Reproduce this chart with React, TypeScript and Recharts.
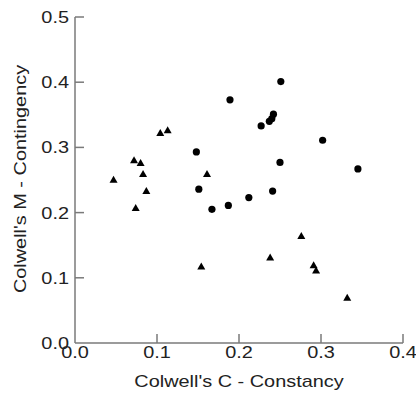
import { ScatterChart, Scatter, XAxis, YAxis } from "recharts";

// Colwell's C (constancy) and M (contingency), two groups
const circleC = [0.251, 0.189, 0.242, 0.24, 0.237, 0.227, 0.302, 0.148, 0.25, 0.345, 0.151, 0.241, 0.212, 0.187, 0.167];
const circleM = [0.401, 0.373, 0.351, 0.344, 0.34, 0.333, 0.311, 0.293, 0.277, 0.267, 0.236, 0.233, 0.223, 0.211, 0.205];

const triangleC = [0.104, 0.113, 0.072, 0.08, 0.083, 0.161, 0.047, 0.087, 0.074, 0.154, 0.238, 0.276, 0.291, 0.294, 0.332];
const triangleM = [0.323, 0.327, 0.281, 0.277, 0.26, 0.26, 0.251, 0.234, 0.208, 0.118, 0.132, 0.165, 0.12, 0.112, 0.07];

const xTicks = [0, 0.1, 0.2, 0.3, 0.4];
const yTicks = [0, 0.1, 0.2, 0.3, 0.4, 0.5];

const circles = circleC.map((c, i) => ({ c, m: circleM[i] }));
const triangles = triangleC.map((c, i) => ({ c, m: triangleM[i] }));

const FONT = "'Liberation Sans', Arial, sans-serif";
const AXIS = "#7a7a7a";
const SX = 1.17; // glyphs in the reference are a bit wide

function XTick({ x, y, payload }: any) {
  const v = payload.value as number;
  return (
    <g>
      {v > 0 && <line x1={x} x2={x} y1={y} y2={y - 9} stroke={AXIS} strokeWidth={1.5} />}
      <g transform={`translate(${x},${y + 3}) scale(${SX},1)`}>
        <text textAnchor="middle" dy="0.71em" fontSize={17} fontFamily={FONT} fill="#222">
          {v.toFixed(1)}
        </text>
      </g>
    </g>
  );
}

function YTick({ x, y, payload }: any) {
  const v = payload.value as number;
  return (
    <g>
      {v > 0 && <line x1={x} x2={x + 9} y1={y} y2={y} stroke={AXIS} strokeWidth={1.5} />}
      <g transform={`translate(${x - 6},${y}) scale(${SX},1)`}>
        <text textAnchor="end" dy="0.355em" fontSize={17} fontFamily={FONT} fill="#222">
          {v.toFixed(1)}
        </text>
      </g>
    </g>
  );
}

function Dot({ cx, cy }: any) {
  return <circle cx={cx} cy={cy} r={3.6} fill="#000" />;
}

function Tri({ cx, cy }: any) {
  const w = 4;
  const h = 7;
  return (
    <polygon
      points={`${cx - w},${cy + h / 2} ${cx + w},${cy + h / 2} ${cx},${cy - h / 2}`}
      fill="#000"
    />
  );
}

export default function App() {
  return (
    <div style={{ width: 416, height: 393, background: "#fff" }}>
      <style>{`body{margin:0}`}</style>
      <ScatterChart width={416} height={393} margin={{ top: 17, right: 13, bottom: 0, left: 0 }}>
        <XAxis
          type="number"
          dataKey="c"
          domain={[0, 0.4]}
          ticks={xTicks}
          height={50}
          tickSize={0}
          tickMargin={0}
          tickLine={false}
          axisLine={{ stroke: AXIS, strokeWidth: 1.5 }}
          tick={<XTick />}
          label={{
            content: () => (
              <g transform={`translate(239,387) scale(${SX},1)`}>
                <text textAnchor="middle" fontSize={17} fontFamily={FONT} fill="#222">
                  Colwell's C - Constancy
                </text>
              </g>
            ),
          }}
        />
        <YAxis
          type="number"
          dataKey="m"
          domain={[0, 0.5]}
          ticks={yTicks}
          width={75}
          tickSize={0}
          tickMargin={0}
          tickLine={false}
          axisLine={{ stroke: AXIS, strokeWidth: 1.5 }}
          tick={<YTick />}
          label={{
            content: () => (
              <g transform={`translate(26,179) rotate(-90) scale(${SX},1)`}>
                <text textAnchor="middle" fontSize={17} fontFamily={FONT} fill="#222">
                  Colwell's M - Contingency
                </text>
              </g>
            ),
          }}
        />
        <Scatter data={circles} shape={<Dot />} isAnimationActive={false} />
        <Scatter data={triangles} shape={<Tri />} isAnimationActive={false} />
      </ScatterChart>
    </div>
  );
}
